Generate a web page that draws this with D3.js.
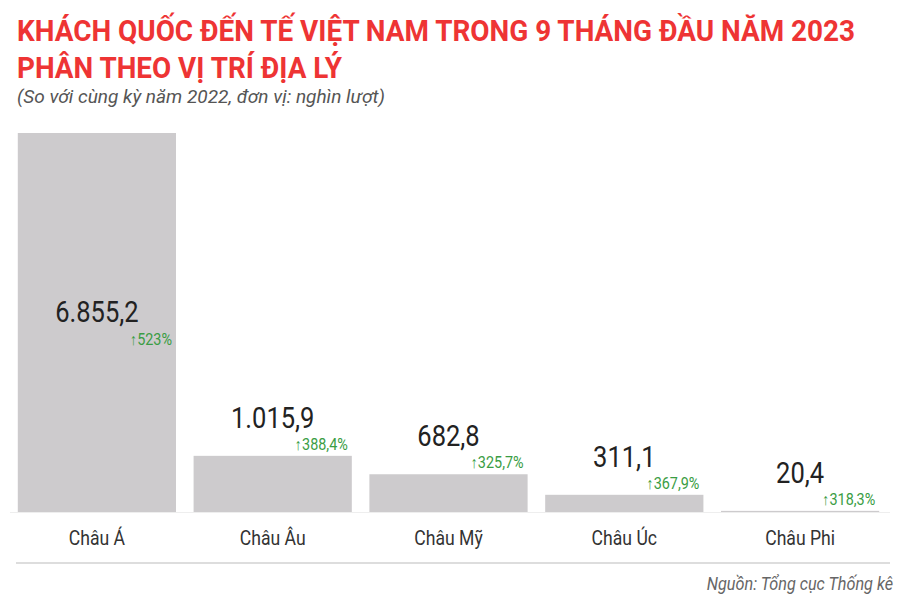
<!DOCTYPE html><html><head><meta charset="utf-8"><script src="https://cdn.jsdelivr.net/npm/d3@7"></script>
<style>body{margin:0;background:#fff}</style></head><body><svg id="c" width="900" height="604"></svg>
<script>
const categories=["Châu Á","Châu Âu","Châu Mỹ","Châu Úc","Châu Phi"];
const values=[6855.2,1015.9,682.8,311.1,20.4];
const valueLabels=["6.855,2","1.015,9","682,8","311,1","20,4"];
const growthLabels=["523%","388,4%","325,7%","367,9%","318,3%"];
const svg=d3.select("#c"),F="Roboto, sans-serif";
const x=d3.scaleBand().domain(categories).range([9,888]).paddingInner(0.1).paddingOuter(0.05);
const y=d3.scaleLinear().domain([0,6855.2]).range([512,133]);
function t(txt,xx,yy,o,sx){const g=svg.append("g").attr("transform",`translate(${xx},${yy}) scale(${sx||1},1)`);const e=g.append("text").text(txt).attr("font-family",F);for(const k in o)e.attr(k,o[k]);return e;}
t("KHÁCH QUỐC ĐẾN TẾ VIỆT NAM TRONG 9 THÁNG ĐẦU NĂM 2023",17,41,{"font-size":30,"font-weight":700,fill:"#ee3434",textLength:838,lengthAdjust:"spacingAndGlyphs"});
t("PHÂN THEO VỊ TRÍ ĐỊA LÝ",17,78,{"font-size":30,"font-weight":700,fill:"#ee3434",textLength:325,lengthAdjust:"spacingAndGlyphs"});
t("(So với cùng kỳ năm 2022, đơn vị: nghìn lượt)",17,103,{"font-size":18,"font-style":"italic",fill:"#555",textLength:368,lengthAdjust:"spacingAndGlyphs"});
svg.append("line").attr("x1",10).attr("x2",890).attr("y1",512.5).attr("y2",512.5).attr("stroke","#eee");
svg.append("line").attr("x1",16).attr("x2",890).attr("y1",563).attr("y2",563).attr("stroke","#ddd").attr("stroke-width",2);
categories.forEach((c,i)=>{
  const bx=x(c),bw=x.bandwidth(),top=y(values[i]);
  svg.append("rect").attr("x",bx).attr("y",top).attr("width",bw).attr("height",512-top).attr("fill","#cdcbcd");
  const vy=i===0?322:top-28, py=i===0?345:top-6;
  t(valueLabels[i],bx+bw/2,vy,{"font-size":29,fill:"#222","text-anchor":"middle"},0.88);
  t("↑"+growthLabels[i],bx+bw-4,py,{"font-size":16,fill:"#3a9d44","text-anchor":"end"},0.9);
  t(c,bx+bw/2,545,{"font-size":20,fill:"#333","text-anchor":"middle"},0.88);
});
t("Nguồn: Tổng cục Thống kê",893,590,{"font-size":18,"font-style":"italic",fill:"#666","text-anchor":"end"},0.9);
</script></body></html>
